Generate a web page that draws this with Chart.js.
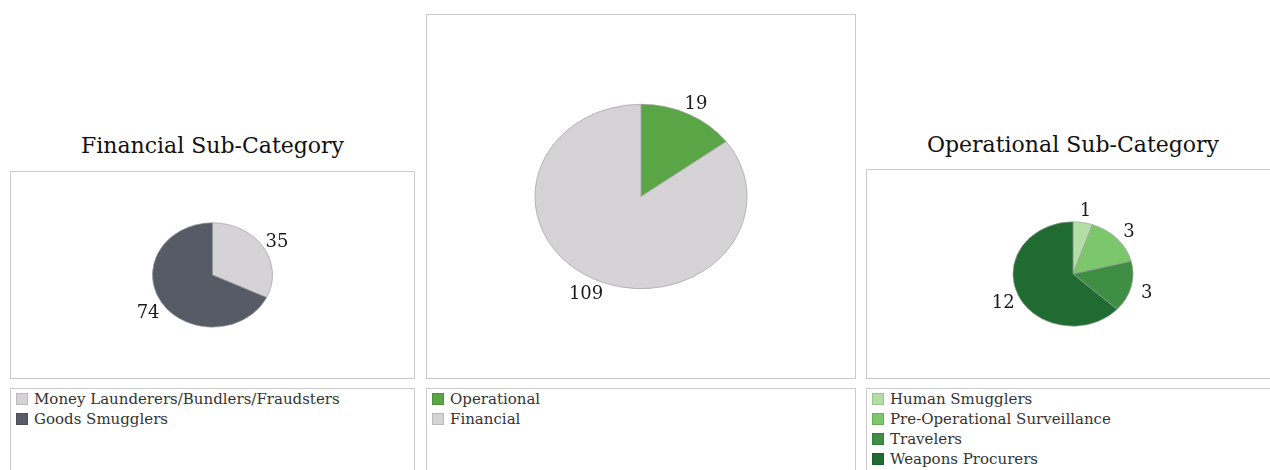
<!DOCTYPE html>
<html>
<head>
<meta charset="utf-8">
<script src="https://cdn.jsdelivr.net/npm/chart.js@4.4.1/dist/chart.umd.min.js"></script>
<style>
    html, body { margin: 0; padding: 0; background: #fff; overflow: hidden; width: 1270px; height: 470px; }
    body { position: relative; font-family: "DejaVu Serif", serif; }
    .box { position: absolute; box-sizing: border-box; border: 1.5px solid #cbcbcb; background: #fff; }
    .box canvas { display: block; }
    .title { position: absolute; text-align: center; font-size: 22px; color: #111; line-height: 26px; }
    .legend { position: absolute; box-sizing: border-box; border: 1.5px solid #cbcbcb; padding: 0 0 0 5px; overflow: hidden; }
    .legend-item { height: 20px; line-height: 20px; font-size: 15px; color: #333; white-space: nowrap; }
    .legend-item span.sq { display: inline-block; width: 12px; height: 12px; box-sizing: border-box; vertical-align: -1px; margin-right: 6px; border: 1px solid rgba(0,0,0,0.12); }
</style>
</head>
<body>

<div class="title" style="left:10px; top:133px; width:405px;">Financial Sub-Category</div>
<div class="box" style="left:10px; top:171px; width:405px; height:208px;"><canvas id="financial"></canvas></div>
<div class="legend" id="financial-legend" style="left:10px; top:388px; width:405px; height:100px;"></div>

<div class="box" style="left:426px; top:14px; width:430px; height:365px;"><canvas id="overall"></canvas></div>
<div class="legend" id="overall-legend" style="left:426px; top:388px; width:430px; height:100px;"></div>

<div class="title" style="left:866px; top:132px; width:414px;">Operational Sub-Category</div>
<div class="box" style="left:866px; top:169px; width:414px; height:210px;"><canvas id="operational"></canvas></div>
<div class="legend" id="operational-legend" style="left:866px; top:388px; width:414px; height:100px;"></div>

<script>
'use strict';

const financialLabels = ['Money Launderers/Bundlers/Fraudsters', 'Goods Smugglers'];
const financialValues = [35, 74];
const financialColors = ['#d5d3d6', '#575b65'];

const overallLabels = ['Operational', 'Financial'];
const overallValues = [19, 109];
const overallColors = ['#5aa646', '#d5d3d6'];

const operationalLabels = ['Human Smugglers', 'Pre-Operational Surveillance', 'Travelers', 'Weapons Procurers'];
const operationalValues = [1, 3, 3, 12];
const operationalColors = ['#b3dea6', '#7cc76c', '#3e8f43', '#1f6b32'];

// squash pies a bit wider than tall, then write the values outside each slice
const ellipsePie = {
    id: 'ellipsePie',
    beforeDatasetsDraw(chart, args, opts) {
        const arc = chart.getDatasetMeta(0).data[0];
        const ctx = chart.ctx;
        ctx.save();
        ctx.translate(arc.x, arc.y);
        ctx.scale(opts.sx, 1);
        ctx.translate(-arc.x, -arc.y);
    },
    afterDatasetsDraw(chart, args, opts) {
        const ctx = chart.ctx;
        ctx.restore();
        const values = chart.data.datasets[0].data;
        ctx.save();
        ctx.font = '18px "DejaVu Serif", serif';
        ctx.fillStyle = '#1a1a1a';
        ctx.textAlign = 'center';
        ctx.textBaseline = 'middle';
        chart.getDatasetMeta(0).data.forEach((arc, i) => {
            const mid = (arc.startAngle + arc.endAngle) / 2;
            const r = arc.outerRadius + opts.offset;
            ctx.fillText(String(values[i]), arc.x + Math.cos(mid) * r * opts.sx, arc.y + Math.sin(mid) * r + 3);
        });
        ctx.restore();
    }
};

function makePie(id, labels, values, colors, padY) {
    const chart = new Chart(document.getElementById(id), {
        type: 'pie',
        data: {
            labels: labels,
            datasets: [{
                data: values,
                backgroundColor: colors,
                borderColor: '#9a9a9a',
                borderWidth: 0.6
            }]
        },
        options: {
            responsive: true,
            maintainAspectRatio: false,
            animation: false,
            layout: { padding: { top: padY, bottom: padY } },
            plugins: {
                legend: { display: false },
                tooltip: { enabled: false },
                ellipsePie: { sx: 1.15, offset: 14 }
            }
        },
        plugins: [ellipsePie]
    });

    const legendBox = document.getElementById(id + '-legend');
    legendBox.innerHTML = '';
    labels.forEach((label, i) => {
        legendBox.innerHTML += `<div class="legend-item"><span class="sq" style="background:${colors[i]}"></span>${label}</div>`;
    });
    return chart;
}

makePie('financial', financialLabels, financialValues, financialColors, 50.5);
makePie('overall', overallLabels, overallValues, overallColors, 89);
makePie('operational', operationalLabels, operationalValues, operationalColors, 51.5);
</script>
</body>
</html>
